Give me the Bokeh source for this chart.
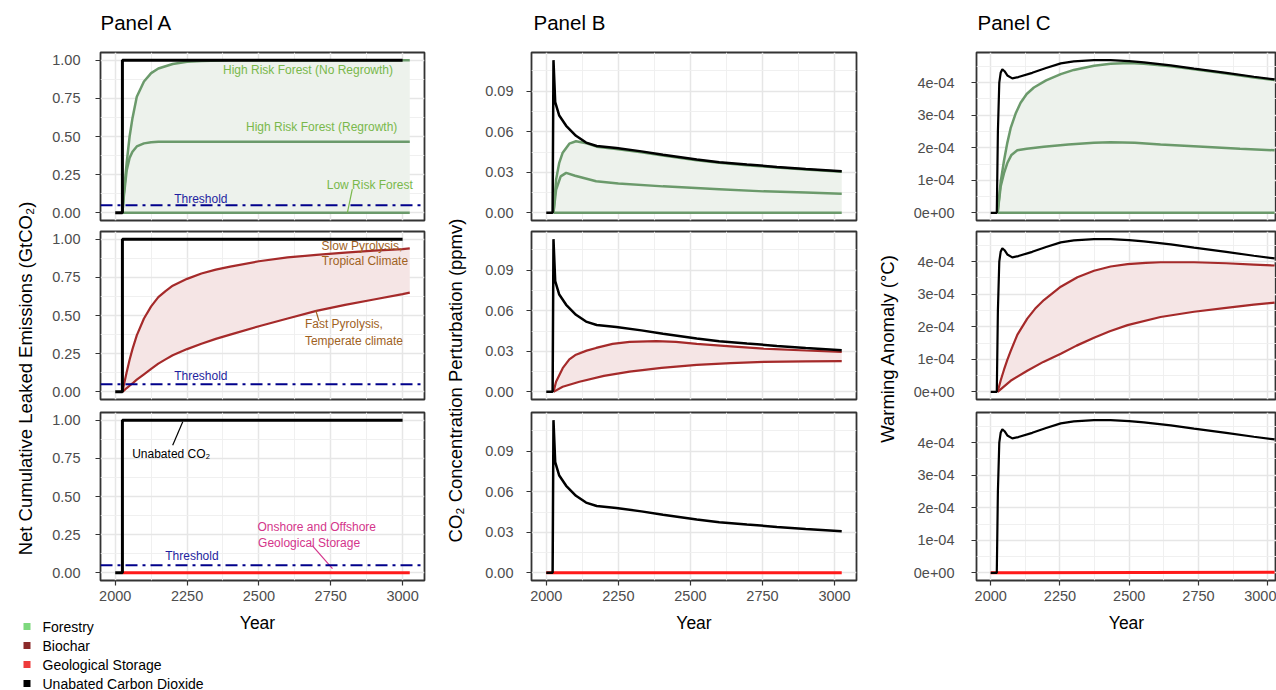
import math
from bokeh.plotting import figure
from bokeh.layouts import row, column
from bokeh.models import (Range1d, FixedTicker, Span, Label, NumeralTickFormatter,
                          CustomJSTickFormatter)
from bokeh.core.properties import value
from bokeh.embed import file_html
from bokeh.resources import INLINE

FONT = "Liberation Sans"

# ------------------------------------------------------------------ data
# Panel A : net cumulative leaked emissions (GtCO2)
a_unabated_years = [2000, 2025, 2025, 3000]
a_unabated = [0.0, 0.0, 1.0, 1.0]

a_forest_years = [2025, 2030, 2040, 2050, 2060, 2075, 2100, 2125, 2150, 2200,
                  2250, 2300, 2400, 2500, 2600, 2700, 2800, 2900, 3025]
a_forest_noregrowth = [0, 0.13, 0.33, 0.50, 0.62, 0.76, 0.86, 0.915, 0.945, 0.975,
                       0.99, 0.995, 1.0, 1.0, 1.0, 1.0, 1.0, 1.0, 1.0]
a_forest_regrowth = [0, 0.11, 0.28, 0.36, 0.40, 0.435, 0.455, 0.462, 0.465, 0.465,
                     0.465, 0.465, 0.465, 0.465, 0.465, 0.465, 0.465, 0.465, 0.465]
a_lowrisk_years = [2025, 3025]
a_lowrisk = [0.0, 0.0]

a_biochar_years = [2025, 2030, 2040, 2050, 2060, 2075, 2100, 2125, 2150, 2175, 2200,
                   2250, 2300, 2350, 2400, 2500, 2600, 2700, 2800, 2900, 3000, 3025]
a_biochar_slow = [0, 0.045, 0.13, 0.21, 0.28, 0.37, 0.48, 0.56, 0.62, 0.66, 0.695,
                  0.74, 0.775, 0.80, 0.82, 0.855, 0.88, 0.897, 0.912, 0.925, 0.935, 0.94]
a_biochar_fast = [0, 0.008, 0.025, 0.04, 0.055, 0.08, 0.115, 0.15, 0.185, 0.213, 0.24,
                  0.28, 0.315, 0.347, 0.375, 0.43, 0.48, 0.53, 0.57, 0.605, 0.64, 0.65]

a_geo_years = [2025, 3025]
a_geo = [0.0, 0.0]
threshold = 0.05

# Panel B : CO2 concentration perturbation (ppmv)
b_unabated_years = [2000, 2022, 2025, 2031, 2045, 2069, 2103, 2138, 2175, 2243,
                    2330, 2405, 2522, 2600, 2696, 2800, 2900, 3025]
b_unabated = [0, 0, 0.113, 0.082, 0.072, 0.0644, 0.057, 0.052, 0.0495, 0.048,
              0.0455, 0.043, 0.0395, 0.0375, 0.0358, 0.034, 0.0325, 0.0308]
b_forest_hi_years = [2025, 2034, 2045, 2057, 2080, 2103, 2140, 2175, 2243, 2330,
                     2405, 2522, 2600, 2696, 2800, 2900, 3025]
b_forest_noregrowth = [0, 0.0246, 0.037, 0.0445, 0.0512, 0.053, 0.0515, 0.049, 0.0472,
                       0.0448, 0.0424, 0.039, 0.037, 0.0353, 0.0336, 0.0321, 0.0304]
b_forest_rg_years = [2025, 2034, 2050, 2069, 2100, 2173, 2250, 2405, 2600, 2754, 2900, 3025]
b_forest_regrowth = [0, 0.0171, 0.027, 0.0296, 0.0275, 0.0234, 0.0218, 0.0196, 0.0175,
                     0.0159, 0.015, 0.0142]
b_lowrisk_years = [2025, 3025]
b_lowrisk = [0.0, 0.0]
b_slow_years = [2025, 2034, 2057, 2080, 2103, 2140, 2173, 2230, 2289, 2382, 2450,
                2522, 2640, 2754, 2900, 3025]
b_biochar_slow = [0, 0.0075, 0.0175, 0.024, 0.0275, 0.0305, 0.0325, 0.0355, 0.037,
                  0.0375, 0.037, 0.0355, 0.0337, 0.032, 0.0306, 0.0296]
b_fast_years = [2025, 2057, 2115, 2200, 2289, 2400, 2522, 2640, 2754, 2900, 3025]
b_biochar_fast = [0, 0.0038, 0.0075, 0.0118, 0.015, 0.0178, 0.020, 0.0213, 0.0222,
                  0.0226, 0.0228]
b_geo_years = [2000, 3025]
b_geo = [0.0, 0.0]

# Panel C : warming anomaly (degC)
c_unabated_years = [2000, 2022, 2026, 2031, 2036, 2042, 2050, 2060, 2078, 2100, 2150,
                    2200, 2253, 2300, 2373, 2433, 2500, 2553, 2650, 2734, 2850, 2950, 3025]
c_unabated = [0, 0, 2.5e-4, 4.0e-4, 4.3e-4, 4.41e-4, 4.35e-4, 4.22e-4, 4.13e-4, 4.17e-4,
              4.3e-4, 4.45e-4, 4.59e-4, 4.65e-4, 4.69e-4, 4.69e-4, 4.66e-4, 4.62e-4,
              4.53e-4, 4.43e-4, 4.30e-4, 4.18e-4, 4.10e-4]
c_forest_hi_years = [2025, 2036, 2048, 2060, 2072, 2090, 2108, 2130, 2156, 2200, 2253,
                     2300, 2373, 2433, 2500, 2553, 2650, 2734, 2850, 2950, 3025]
c_forest_noregrowth = [0, 0.95e-4, 1.6e-4, 2.15e-4, 2.6e-4, 3.05e-4, 3.38e-4, 3.65e-4,
                       3.85e-4, 4.07e-4, 4.26e-4, 4.39e-4, 4.52e-4, 4.58e-4, 4.6e-4,
                       4.58e-4, 4.5e-4, 4.41e-4, 4.28e-4, 4.16e-4, 4.08e-4]
c_forest_rg_years = [2025, 2036, 2048, 2060, 2075, 2096, 2130, 2192, 2280, 2373, 2433,
                     2520, 2613, 2750, 2900, 3025]
c_forest_regrowth = [0, 0.81e-4, 1.22e-4, 1.53e-4, 1.78e-4, 1.92e-4, 1.97e-4, 2.03e-4,
                     2.1e-4, 2.15e-4, 2.17e-4, 2.15e-4, 2.1e-4, 2.04e-4, 1.97e-4, 1.92e-4]
c_lowrisk_years = [2025, 3025]
c_lowrisk = [0.0, 0.0]
c_slow_years = [2025, 2036, 2048, 2060, 2072, 2096, 2132, 2160, 2192, 2253, 2313, 2373,
                2433, 2494, 2560, 2613, 2734, 2850, 2950, 3025]
c_biochar_slow = [0, 0.35e-4, 0.68e-4, 0.98e-4, 1.25e-4, 1.75e-4, 2.25e-4, 2.55e-4,
                  2.82e-4, 3.23e-4, 3.52e-4, 3.72e-4, 3.85e-4, 3.92e-4, 3.96e-4,
                  3.98e-4, 3.98e-4, 3.95e-4, 3.91e-4, 3.88e-4]
c_fast_years = [2025, 2072, 2132, 2190, 2253, 2310, 2373, 2430, 2494, 2613, 2734, 2850,
                2950, 3025]
c_biochar_fast = [0, 0.34e-4, 0.65e-4, 0.92e-4, 1.17e-4, 1.42e-4, 1.66e-4, 1.86e-4,
                  2.05e-4, 2.3e-4, 2.46e-4, 2.58e-4, 2.68e-4, 2.74e-4]
c_geo_years = [2000, 2025, 3025]
c_geo = [0.0, 0.0, 0.02e-4]

# ticks
x_major = [2000, 2250, 2500, 2750, 3000]
x_minor = [2125, 2375, 2625, 2875]
a_y_major = [0, 0.25, 0.5, 0.75, 1.0]
a_y_minor = [0.125, 0.375, 0.625, 0.875]
b_y_major = [0, 0.03, 0.06, 0.09]
b_y_minor = [0.015, 0.045, 0.075, 0.105]
c_y_major = [0, 1e-4, 2e-4, 3e-4, 4e-4]
c_y_minor = [0.5e-4, 1.5e-4, 2.5e-4, 3.5e-4, 4.5e-4]

panel_titles = ["Panel A", "Panel B", "Panel C"]
legend_labels = ["Forestry", "Biochar", "Geological Storage", "Unabated Carbon Dioxide"]

# ------------------------------------------------------------------ style
GREEN = "#6b9a6b"
GREEN_FILL = "#edf2ec"
GREEN_TXT = "#79b84b"
BIO = "#a52a2a"
BIO_FILL = "#f5e5e5"
BIO_TXT = "#a0621e"
GEO = "#ff1a1a"
GEO_TXT = "#d4358b"
THR = "#00008b"
THR_TXT = "#1f1fa0"
legend_colors = ["#7dd87d", "#8b2a2a", "#ee3b3b", "#000000"]

XR_FULL = (1948.75, 3076.25)
XR_C = (1948.75, 3031.8)
YR_A = (-0.05, 1.05)
YR_B = (-0.00565, 0.11865)
YR_C = (-0.2345e-4, 4.9245e-4)

exp_fmt = CustomJSTickFormatter(code=r"""
const s = tick.toExponential(0);
const m = s.match(/^(-?\d)e([+-])(\d+)$/);
if (!m) return s;
const e = m[3].length < 2 ? '0' + m[3] : m[3];
return m[1] + 'e' + m[2] + e;
""")


def panel(width, height, top, bottom, left, right, xr, yr, ymaj, ymin, yfmt,
          show_x, ystandoff):
    p = figure(width=width, height=height, x_range=Range1d(*xr), y_range=Range1d(*yr),
               toolbar_location=None, output_backend="svg",
               min_border_top=top, min_border_bottom=bottom,
               min_border_left=left, min_border_right=right,
               background_fill_color="white", border_fill_color="white",
               outline_line_color="#333333", outline_line_width=1.8)
    xt = FixedTicker(ticks=x_major, minor_ticks=x_minor)
    yt = FixedTicker(ticks=ymaj, minor_ticks=ymin)
    p.xaxis.ticker = xt
    p.yaxis.ticker = yt
    p.xgrid.ticker = xt
    p.ygrid.ticker = yt
    p.grid.grid_line_color = "#e6e6e6"
    p.grid.grid_line_width = 1.5
    p.grid.minor_grid_line_color = "#eeeeee"
    p.grid.minor_grid_line_width = 0.9
    for ax in (p.xaxis[0], p.yaxis[0]):
        ax.axis_line_color = None
        ax.major_tick_line_color = "#333333"
        ax.major_tick_line_width = 1.2
        ax.major_tick_out = 5
        ax.major_tick_in = 0
        ax.minor_tick_line_color = None
        ax.major_label_text_font = FONT
        ax.major_label_text_font_size = "14.5px"
        ax.major_label_text_color = "#4d4d4d"
        ax.axis_label_text_font = FONT
        ax.axis_label_text_font_size = "17.5px"
        ax.axis_label_text_font_style = "normal"
        ax.axis_label_text_color = "black"
    p.yaxis.formatter = yfmt
    p.yaxis.major_label_standoff = ystandoff
    p.xaxis.major_label_standoff = 5
    if not show_x:
        p.xaxis.visible = False
    return p


def ribbon(p, ux, uy, lx, ly, color):
    p.patch(x=list(ux) + list(lx)[::-1], y=list(uy) + list(ly)[::-1],
            fill_color=color, line_color=None)


def add_label(p, x, y, text, color, align="left"):
    p.add_layout(Label(x=x, y=y, text=text, text_font=FONT, text_font_size="12px",
                       text_color=color, text_align=align, text_baseline="middle"))


def add_threshold(p, lx, ly):
    p.add_layout(Span(location=threshold, dimension="width", line_color=THR,
                      line_width=2, line_dash="12 5 3 5"))
    add_label(p, lx, ly, "Threshold", THR_TXT)


def blank(width, height, left=0, right=0):
    p = figure(width=width, height=height, x_range=Range1d(0, width - left - right),
               y_range=Range1d(height, 0), toolbar_location=None, output_backend="svg",
               min_border_top=0, min_border_bottom=0,
               min_border_left=left, min_border_right=right,
               x_axis_location=None, y_axis_location=None,
               outline_line_color=None, background_fill_color="white",
               border_fill_color="white")
    p.grid.visible = False
    return p


def title_fig(width, left, right, dx, text):
    # frame of this strip lines up with the panel frames below it
    p = blank(width, 46, left, right)
    p.add_layout(Label(x=dx, y=22, text=text, text_align="left", text_baseline="middle",
                       text_font=FONT, text_font_size="20.5px", text_color="black"))
    return p


# ------------------------------------------------------------------ Panel A
fmt2 = NumeralTickFormatter(format="0.00")
tA = title_fig(385, 55, 6, 0, panel_titles[0])
a1 = panel(385, 179, 6, 5, 55, 6, XR_FULL, YR_A, a_y_major, a_y_minor, fmt2, False, 15)
ribbon(a1, a_forest_years, a_forest_noregrowth, a_lowrisk_years, a_lowrisk, GREEN_FILL)
a1.line(a_lowrisk_years, a_lowrisk, line_color=GREEN, line_width=2.5)
a1.line(a_forest_years, a_forest_regrowth, line_color=GREEN, line_width=2.5)
a1.line(a_forest_years, a_forest_noregrowth, line_color=GREEN, line_width=2.5)
a1.line(a_unabated_years, a_unabated, line_color="black", line_width=3)
add_threshold(a1, 2205, 0.092)
add_label(a1, 2375, 0.934, "High Risk Forest (No Regrowth)", GREEN_TXT)
add_label(a1, 2455, 0.559, "High Risk Forest (Regrowth)", GREEN_TXT)
add_label(a1, 2736, 0.184, "Low Risk Forest", GREEN_TXT)
a1.segment(x0=[2825], y0=[0.156], x1=[2808], y1=[0.002], line_color=GREEN_TXT, line_width=1.2)

a2 = panel(385, 180, 6, 6, 55, 6, XR_FULL, YR_A, a_y_major, a_y_minor, fmt2, False, 15)
ribbon(a2, a_biochar_years, a_biochar_slow, a_biochar_years, a_biochar_fast, BIO_FILL)
a2.line(a_biochar_years, a_biochar_slow, line_color=BIO, line_width=2.2)
a2.line(a_biochar_years, a_biochar_fast, line_color=BIO, line_width=2.2)
a2.line(a_unabated_years, a_unabated, line_color="black", line_width=3)
add_threshold(a2, 2205, 0.104)
add_label(a2, 2718, 0.954, "Slow Pyrolysis,", BIO_TXT)
add_label(a2, 2719, 0.854, "Tropical Climate", BIO_TXT)
add_label(a2, 2660, 0.442, "Fast Pyrolysis,", BIO_TXT)
add_label(a2, 2660, 0.336, "Temperate climate", BIO_TXT)
a2.segment(x0=[2698], y0=[0.534], x1=[2709], y1=[0.464], line_color=BIO_TXT, line_width=1.2)

a3 = panel(385, 207, 7, 32, 55, 6, XR_FULL, YR_A, a_y_major, a_y_minor, fmt2, True, 15)
a3.line(a_geo_years, a_geo, line_color=GEO, line_width=3)
a3.line(a_unabated_years, a_unabated, line_color="black", line_width=3)
add_threshold(a3, 2174, 0.112)
add_label(a3, 2059, 0.781, "Unabated CO\u2082", "black")
a3.segment(x0=[2235], y0=[0.989], x1=[2200], y1=[0.836], line_color="black", line_width=1.2)
add_label(a3, 2495, 0.298, "Onshore and Offshore", GEO_TXT)
add_label(a3, 2497, 0.195, "Geological Storage", GEO_TXT)
a3.segment(x0=[2686], y0=[0.178], x1=[2756], y1=[0.028], line_color=GEO_TXT, line_width=1.2)

# ------------------------------------------------------------------ Panel B
tB = title_fig(390, 61, 4, 2, panel_titles[1])
b1 = panel(390, 179, 6, 5, 61, 4, XR_FULL, YR_B, b_y_major, b_y_minor, fmt2, False, 13)
ribbon(b1, b_forest_hi_years, b_forest_noregrowth, b_lowrisk_years, b_lowrisk, GREEN_FILL)
b1.line(b_lowrisk_years, b_lowrisk, line_color=GREEN, line_width=2.5)
b1.line(b_forest_rg_years, b_forest_regrowth, line_color=GREEN, line_width=2.5)
b1.line(b_forest_hi_years, b_forest_noregrowth, line_color=GREEN, line_width=2.5)
b1.line(b_unabated_years, b_unabated, line_color="black", line_width=2.5)

b2 = panel(390, 180, 6, 6, 61, 4, XR_FULL, YR_B, b_y_major, b_y_minor, fmt2, False, 13)
ribbon(b2, b_slow_years, b_biochar_slow, b_fast_years, b_biochar_fast, BIO_FILL)
b2.line(b_slow_years, b_biochar_slow, line_color=BIO, line_width=2.2)
b2.line(b_fast_years, b_biochar_fast, line_color=BIO, line_width=2.2)
b2.line(b_unabated_years, b_unabated, line_color="black", line_width=2.5)

b3 = panel(390, 285, 7, 110, 61, 4, XR_FULL, YR_B, b_y_major, b_y_minor, fmt2, True, 13)
b3.line(b_geo_years, b_geo, line_color=GEO, line_width=3)
b3.line(b_unabated_years, b_unabated, line_color="black", line_width=2.5)
b3.xaxis.axis_label = "Year"
b3.xaxis.axis_label_standoff = 9

# ------------------------------------------------------------------ Panel C
tC = title_fig(376, 76, 0, 1, panel_titles[2])
c1 = panel(376, 179, 6, 5, 76, 0, XR_C, YR_C, c_y_major, c_y_minor, exp_fmt, False, 17)
ribbon(c1, c_forest_hi_years, c_forest_noregrowth, c_lowrisk_years, c_lowrisk, GREEN_FILL)
c1.line(c_lowrisk_years, c_lowrisk, line_color=GREEN, line_width=2.5)
c1.line(c_forest_rg_years, c_forest_regrowth, line_color=GREEN, line_width=2.5)
c1.line(c_forest_hi_years, c_forest_noregrowth, line_color=GREEN, line_width=2.5)
c1.line(c_unabated_years, c_unabated, line_color="black", line_width=2.2)

c2 = panel(376, 180, 6, 6, 76, 0, XR_C, YR_C, c_y_major, c_y_minor, exp_fmt, False, 17)
ribbon(c2, c_slow_years, c_biochar_slow, c_fast_years, c_biochar_fast, BIO_FILL)
c2.line(c_slow_years, c_biochar_slow, line_color=BIO, line_width=2.2)
c2.line(c_fast_years, c_biochar_fast, line_color=BIO, line_width=2.2)
c2.line(c_unabated_years, c_unabated, line_color="black", line_width=2.2)

c3 = panel(376, 285, 7, 110, 76, 0, XR_C, YR_C, c_y_major, c_y_minor, exp_fmt, True, 17)
c3.line(c_geo_years, c_geo, line_color=GEO, line_width=3)
c3.line(c_unabated_years, c_unabated, line_color="black", line_width=2.2)
c3.xaxis.axis_label = "Year"
c3.xaxis.axis_label_standoff = 9


# ------------------------------------------------------------------ side labels
def ylabel_fig(width, height, x, y, text):
    p = blank(width, height)
    p.add_layout(Label(x=x, y=y, text=text, angle=math.pi / 2, text_align="center",
                       text_baseline="middle", text_font=FONT, text_font_size="18.5px",
                       text_color="black"))
    return p


labA = ylabel_fig(45, 612, 24.5, 378, "Net Cumulative Leaked Emissions (GtCO\u2082)")
labB = ylabel_fig(40, 690, 25, 380, "CO\u2082 Concentration Perturbation (ppmv)")
labC = ylabel_fig(40, 690, 27, 348, "Warming Anomaly (\u00b0C)")

# bottom strip under Panel A: legend + x-axis title
bot = blank(430, 78)
leg_y = [14 + 19 * i for i in range(len(legend_labels))]
bot.rect(x=[26.5] * len(legend_labels), y=leg_y, width=7, height=7,
         width_units="screen", height_units="screen",
         fill_color=legend_colors, line_color=None)
bot.text(x=[42] * len(legend_labels), y=leg_y, text=legend_labels,
         text_font=value(FONT), text_font_size="14px", text_baseline="middle",
         text_color="black")
bot.add_layout(Label(x=257, y=10, text="Year", text_align="center", text_baseline="middle",
                     text_font=FONT, text_font_size="17.5px", text_color="black"))

colA = column(row(labA, column(tA, a1, a2, a3)), bot)
colB = row(labB, column(tB, b1, b2, b3))
colC = row(labC, column(tC, c1, c2, c3))
layout = row(colA, colB, colC)

open("out.html", "w").write(file_html(layout, INLINE))
